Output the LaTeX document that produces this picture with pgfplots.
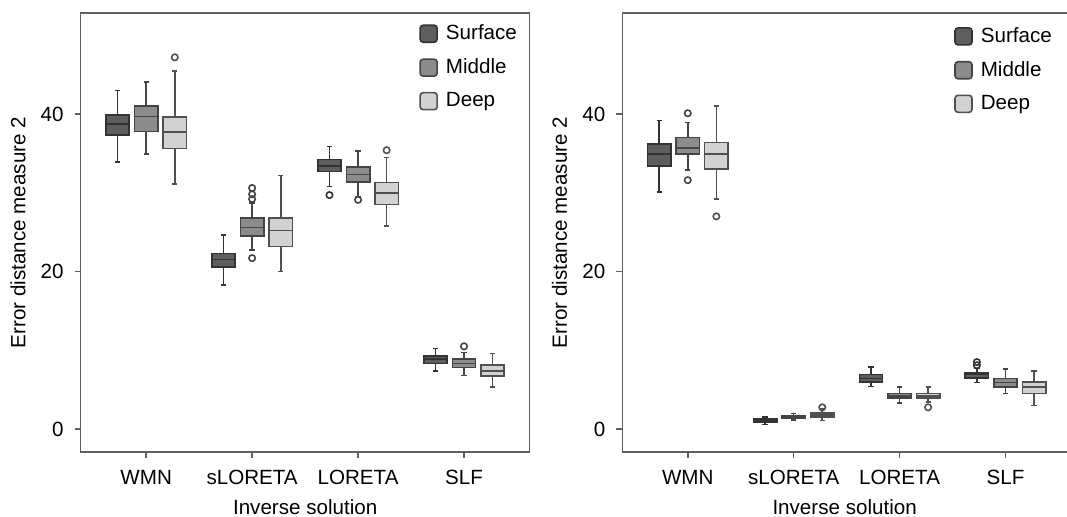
\documentclass[border=0pt]{standalone}
\usepackage{fontspec}
\setmainfont{Liberation Sans}
\usepackage{pgfplots}
\pgfplotsset{compat=1.18}
\usepgfplotslibrary{statistics}

\definecolor{surf}{HTML}{5E5E5E}
\definecolor{surfd}{HTML}{333333}
\definecolor{mid}{HTML}{8C8C8C}
\definecolor{midd}{HTML}{444444}
\definecolor{deep}{HTML}{D2D2D2}
\definecolor{deepd}{HTML}{505050}
\definecolor{axcol}{HTML}{606060}

\newcommand{\fs}{\fontsize{10.3}{12}\selectfont}

% one prepared box: position, lw, lq, median, uq, uw, style, outliers
\newcommand{\bx}[8]{\addplot[forget plot, #7, boxplot prepared={draw position=#1,
  lower whisker=#2, lower quartile=#3, median=#4, upper quartile=#5, upper whisker=#6}]
  coordinates {#8};}

\pgfplotsset{
  sbox/.style={draw=surfd, fill=surf, line width=0.8pt, mark=o, mark size=1.6pt,
    mark options={draw=surfd, fill=none, line width=0.8pt}},
  mbox/.style={draw=midd, fill=mid, line width=0.8pt, mark=o, mark size=1.6pt,
    mark options={draw=midd, fill=none, line width=0.8pt}},
  dbox/.style={draw=deepd, fill=deep, line width=0.8pt, mark=o, mark size=1.6pt,
    mark options={draw=deepd, fill=none, line width=0.8pt}},
  panel/.style={
    scale only axis, height=219.5pt,
    anchor=south west,
    xmin=0.382, ymin=-2.92, ymax=52.83,
    xtick={1,2,3,4}, xticklabels={WMN,sLORETA,LORETA,SLF},
    ytick={0,20,40},
    tick align=outside, tick pos=left, major tick length=3pt,
    tick style={draw=axcol, line width=0.8pt},
    axis line style={draw=axcol, line width=0.8pt},
    /pgf/number format/assume math mode=true,
    tick label style={font=\fs},
    yticklabel style={xshift=-2pt},
    xticklabel style={yshift=-2.5pt},
    xlabel={Inverse solution},
    ylabel={Error distance measure 2},
    every axis x label/.style={at={(axis description cs:0.5,0)}, anchor=center, yshift=-27.5pt, font=\fs},
    every axis y label/.style={at={(axis description cs:0,0.5)}, xshift=-31.4pt, rotate=90, anchor=center, font=\fs},
    boxplot/draw direction=y,
    boxplot/box extend=0.22,
    boxplot/whisker extend=0.05,
    legend image code/.code={\draw[##1, line width=0.8pt, rounded corners=1.5pt] (0pt,-4.25pt) rectangle (8.5pt,4.25pt);},
    legend cell align=left,
    legend style={draw=none, fill=none, font=\fs, anchor=north west, row sep=5pt,
      nodes={inner sep=1.5pt}, /tikz/every odd column/.append style={column sep=2.5pt}},
  },
}

\begin{document}
\begin{tikzpicture}
\path[use as bounding box] (0,0) rectangle (533.5pt,258.5pt);

% left panel
\begin{axis}[panel, at={(40.35pt,32.5pt)}, width=224.5pt, xmax=4.62,
  legend style={at={(0.740,0.990)}}]
\addlegendimage{draw=surfd, fill=surf}\addlegendentry{Surface}
\addlegendimage{draw=midd, fill=mid}\addlegendentry{Middle}
\addlegendimage{draw=deepd, fill=deep}\addlegendentry{Deep}
% WMN
\bx{0.73}{33.9}{37.3}{38.7}{39.9}{43.0}{sbox}{}
\bx{1.00}{34.9}{37.8}{39.7}{41.0}{44.1}{mbox}{}
\bx{1.27}{31.1}{35.6}{37.7}{39.6}{45.5}{dbox}{(0,47.2)}
% sLORETA
\bx{1.73}{18.3}{20.6}{21.5}{22.3}{24.6}{sbox}{}
\bx{2.00}{22.7}{24.5}{25.6}{26.8}{28.7}{mbox}{(0,30.6) (0,29.8) (0,29.2) (0,21.7)}
\bx{2.27}{20.0}{23.2}{25.2}{26.8}{32.2}{dbox}{}
% LORETA
\bx{2.73}{30.8}{32.7}{33.4}{34.2}{35.9}{sbox}{(0,29.7)}
\bx{3.00}{29.5}{31.4}{32.3}{33.3}{35.3}{mbox}{(0,29.1)}
\bx{3.27}{25.8}{28.5}{30.0}{31.3}{34.5}{dbox}{(0,35.4)}
% SLF
\bx{3.73}{7.4}{8.3}{8.9}{9.3}{10.2}{sbox}{}
\bx{4.00}{6.8}{7.8}{8.3}{8.9}{9.7}{mbox}{(0,10.5)}
\bx{4.27}{5.3}{6.7}{7.4}{8.1}{9.6}{dbox}{}
\end{axis}

% right panel (cut off at the right edge)
\begin{axis}[panel, at={(311.15pt,32.5pt)}, width=222.35pt, xmax=4.581,
  axis x line*=bottom, axis y line*=left, axis line style={-},
  legend style={at={(0.732,0.984)}}]
\addlegendimage{draw=surfd, fill=surf}\addlegendentry{Surface}
\addlegendimage{draw=midd, fill=mid}\addlegendentry{Middle}
\addlegendimage{draw=deepd, fill=deep}\addlegendentry{Deep}
\draw[axcol, line width=0.8pt] (rel axis cs:0,1) -- (rel axis cs:1,1);
% WMN
\bx{0.73}{30.1}{33.4}{34.9}{36.2}{39.2}{sbox}{}
\bx{1.00}{32.9}{34.9}{35.7}{37.0}{38.9}{mbox}{(0,40.1) (0,31.6)}
\bx{1.27}{29.2}{33.0}{34.9}{36.4}{41.0}{dbox}{(0,27.0)}
% sLORETA
\bx{1.73}{0.55}{0.85}{1.05}{1.25}{1.55}{sbox}{}
\bx{2.00}{1.15}{1.4}{1.55}{1.7}{1.95}{mbox}{}
\bx{2.27}{1.1}{1.55}{1.8}{2.05}{2.55}{dbox}{(0,2.75)}
% LORETA
\bx{2.73}{5.4}{6.0}{6.4}{6.9}{7.9}{sbox}{}
\bx{3.00}{3.3}{3.9}{4.2}{4.5}{5.3}{mbox}{}
\bx{3.27}{3.4}{3.9}{4.2}{4.5}{5.3}{dbox}{(0,2.75)}
% SLF
\bx{3.73}{5.9}{6.5}{6.9}{7.1}{7.7}{sbox}{(0,8.5) (0,8.1)}
\bx{4.00}{4.5}{5.3}{5.9}{6.4}{7.6}{mbox}{}
\bx{4.27}{3.0}{4.5}{5.3}{6.0}{7.4}{dbox}{}
\end{axis}
\end{tikzpicture}
\end{document}
